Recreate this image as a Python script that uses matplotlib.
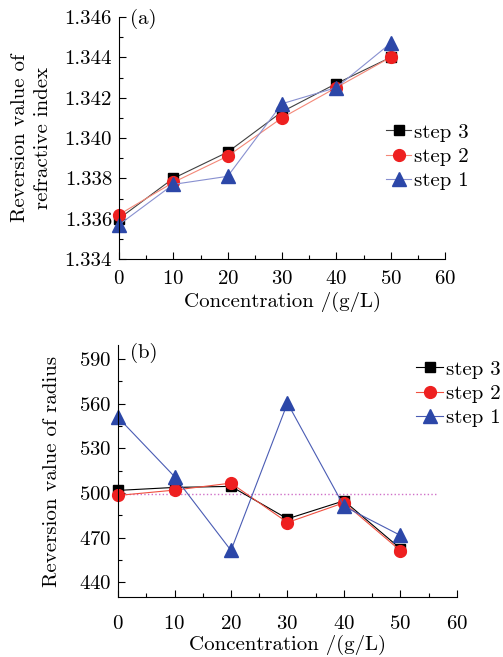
import numpy as np
import matplotlib
matplotlib.use('Agg')
import matplotlib.pyplot as plt
from matplotlib.ticker import MultipleLocator, FormatStrFormatter

plt.rcParams['font.family'] = ['cmr10', 'DejaVu Serif']
plt.rcParams['axes.formatter.use_mathtext'] = True
plt.rcParams['mathtext.fontset'] = 'cm'

# --- data
conc = [0, 10, 20, 30, 40, 50]
labels = ['step 3', 'step 2', 'step 1']

n_step3 = [1.3360, 1.3380, 1.3393, 1.3413, 1.3427, 1.3440]
n_step2 = [1.3362, 1.3378, 1.3391, 1.3410, 1.3425, 1.3440]
n_step1 = [1.3357, 1.3377, 1.3381, 1.3417, 1.3425, 1.3447]

r_step3 = [501.7, 503.7, 504.4, 482.6, 494.7, 462.5]
r_step2 = [498.3, 501.9, 506.6, 480.1, 493.4, 461.1]
r_step1 = [550.8, 511.0, 461.3, 560.4, 491.0, 471.4]
r_ref = 499.5

W, H = 503, 657
fig = plt.figure(figsize=(W / 100, H / 100), dpi=100)

def px_axes(l, t, r, b):
    return fig.add_axes([l / W, 1 - b / H, (r - l) / W, (b - t) / H])

def styles(line_cols):
    return [
        dict(marker='s', color=line_cols[0], mfc='black', mec='black', ms=7.5, lw=0.8),
        dict(marker='o', color=line_cols[1], mfc='#ee2020', mec='#ee2020', ms=8.5, lw=0.8),
        dict(marker='^', color=line_cols[2], mfc='#2c47a8', mec='#2c47a8', ms=9.5, lw=0.8),
    ]

def setup(ax, xpad, xlabelpad):
    ax.spines['top'].set_visible(False)
    ax.spines['right'].set_visible(False)
    ax.tick_params(which='both', direction='in', labelsize=15)
    ax.tick_params(which='major', length=5, width=0.8)
    ax.tick_params(which='minor', length=3, width=0.8)
    ax.tick_params(axis='x', pad=xpad)
    ax.tick_params(axis='y', pad=5)
    ax.set_xlim(0, 60)
    ax.xaxis.set_major_locator(MultipleLocator(10))
    ax.xaxis.set_minor_locator(MultipleLocator(5))
    ax.set_xlabel('Concentration /(g/L)', fontsize=15, labelpad=xlabelpad)

leg_kw = dict(frameon=False, fontsize=15, handletextpad=0.15, labelspacing=0.28,
              borderpad=0, borderaxespad=0)

# --- panel (a)
ax1 = px_axes(119, 17, 445, 259)
setup(ax1, 8, 3)
for ys, st, lb in zip([n_step3, n_step2, n_step1],
                      styles(['#404040', '#f48878', '#8890d0']), labels):
    ax1.plot(conc, ys, label=lb, clip_on=False, **st)
ax1.set_ylim(1.334, 1.346)
ax1.yaxis.set_major_locator(MultipleLocator(0.002))
ax1.yaxis.set_minor_locator(MultipleLocator(0.001))
ax1.yaxis.set_major_formatter(FormatStrFormatter('%.3f'))
ax1.set_ylabel('Reversion value of\nrefractive index', fontsize=15, labelpad=9, linespacing=1.35)
ax1.text(0.035, 0.99, '(a)', transform=ax1.transAxes, fontsize=15, va='center', ha='left')
ax1.legend(loc='upper left', bbox_to_anchor=(386 / W, 1 - 123 / H), bbox_transform=fig.transFigure,
           handlelength=1.2, **leg_kw)

# --- panel (b)
ax2 = px_axes(118, 345, 457, 597)
setup(ax2, 13, 1)
ax2.plot([0, 56.5], [r_ref, r_ref], ls=':', color='#d070c8', lw=1.0)
for ys, st, lb in zip([r_step3, r_step2, r_step1],
                      styles(['black', '#f05040', '#4a5cb4']), labels):
    ax2.plot(conc, ys, label=lb, clip_on=False, **st)
ax2.set_ylim(430, 599.5)
ax2.yaxis.set_major_locator(MultipleLocator(30, offset=20))
ax2.yaxis.set_minor_locator(MultipleLocator(15, offset=5))
ax2.set_ylabel('Reversion value of radius', fontsize=15, labelpad=13)
ax2.text(0.035, 0.97, '(b)', transform=ax2.transAxes, fontsize=15, va='center', ha='left')
ax2.legend(loc='upper left', bbox_to_anchor=(416 / W, 1 - 360 / H), bbox_transform=fig.transFigure,
           handlelength=1.3, **leg_kw)

fig.savefig('out.png', dpi=100)
